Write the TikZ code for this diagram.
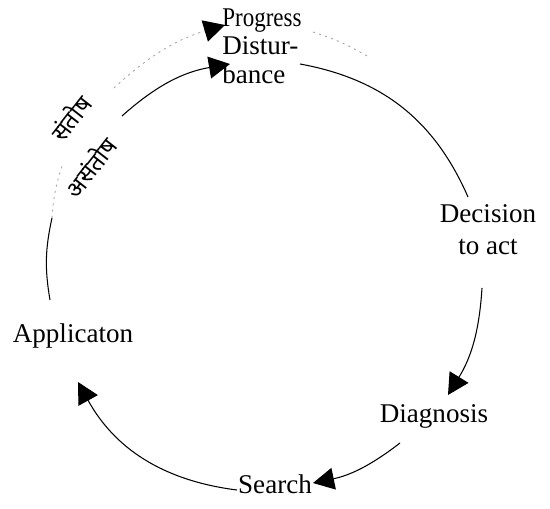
\documentclass[tikz,border=0pt]{standalone}
\usepackage{fontspec}
\setmainfont{Liberation Serif}
\newfontfamily\deva[Script=Devanagari]{Noto Sans}
\usetikzlibrary{arrows.meta}
\begin{document}
\begin{tikzpicture}[x=0.02cm, y=-0.02cm,
  lbl/.style={font=\fontsize{15.4}{18}\selectfont, inner sep=0pt},
  hindi/.style={font=\deva\fontsize{13.5}{16}\selectfont, inner sep=0pt, rotate=52},
  plain/.style={line width=0.6pt},
  flow/.style={line width=0.6pt, -{Triangle[length=12pt,width=12.5pt]}},
  faint/.style={line width=0.5pt, black!35, dash pattern=on 1.2pt off 2.4pt},
  faintflow/.style={faint, -{Triangle[length=12pt,width=12.5pt,color=black]}}]
\path[use as bounding box, fill=white] (0,0) rectangle (550,509);

% stage labels
\node[lbl, anchor=base] (prog) at (262,27) {\scalebox{0.85}[1]{Progress}};
\node[lbl, anchor=west, align=left, font=\fontsize{15.4}{16.5}\selectfont] (dist) at (222,60) {Distur-\\bance};
\node[lbl, align=center, font=\fontsize{15.4}{18.2}\selectfont] (dec) at (488,230) {Decision\\to act};
\node[lbl, anchor=base] (diag) at (434,422) {Diagnosis};
\node[lbl, anchor=base] (search) at (275,493) {Search};
\node[lbl, anchor=base] (app) at (73,342) {Applicaton};

% the two branches after application
\node[hindi] (sat) at (70,118) {संतोष};
\node[hindi] (dissat) at (90,167) {असंतोष};

% end points of the connectors
\coordinate (a0) at (50,300);
\coordinate (fork) at (52,218);
\coordinate (a1) at (122,116);
\coordinate (dtip) at (230,64);
\coordinate (d1) at (300,64);
\coordinate (d2) at (468,197);
\coordinate (c1) at (482,288);
\coordinate (gtip) at (448,395);
\coordinate (g1) at (400,443);
\coordinate (stip) at (313,483);
\coordinate (s1) at (237,490);
\coordinate (atip) at (78,382);
\coordinate (p0) at (62,166);
\coordinate (p1) at (114,88);
\coordinate (ptip) at (225,25);
\coordinate (q0) at (313,32);
\coordinate (q1) at (367,56);

% main cycle, running clockwise
\draw[plain] (a0) to[bend left=11] (fork);
\draw[flow] (a1) to[bend left=16] (dtip);
\draw[plain] (d1) to[bend left=28] (d2);
\draw[flow] (c1) to[bend left=14] (gtip);
\draw[flow] (g1) to[bend left=13] (stip);
\draw[flow] (s1) to[bend left=27] (atip);

% outer path towards progress
\draw[faint] (fork) to[bend left=7] (p0);
\draw[faintflow] (p1) to[bend left=13] (ptip);
\draw[faint] (q0) to[bend left=6] (q1);
\end{tikzpicture}
\end{document}
